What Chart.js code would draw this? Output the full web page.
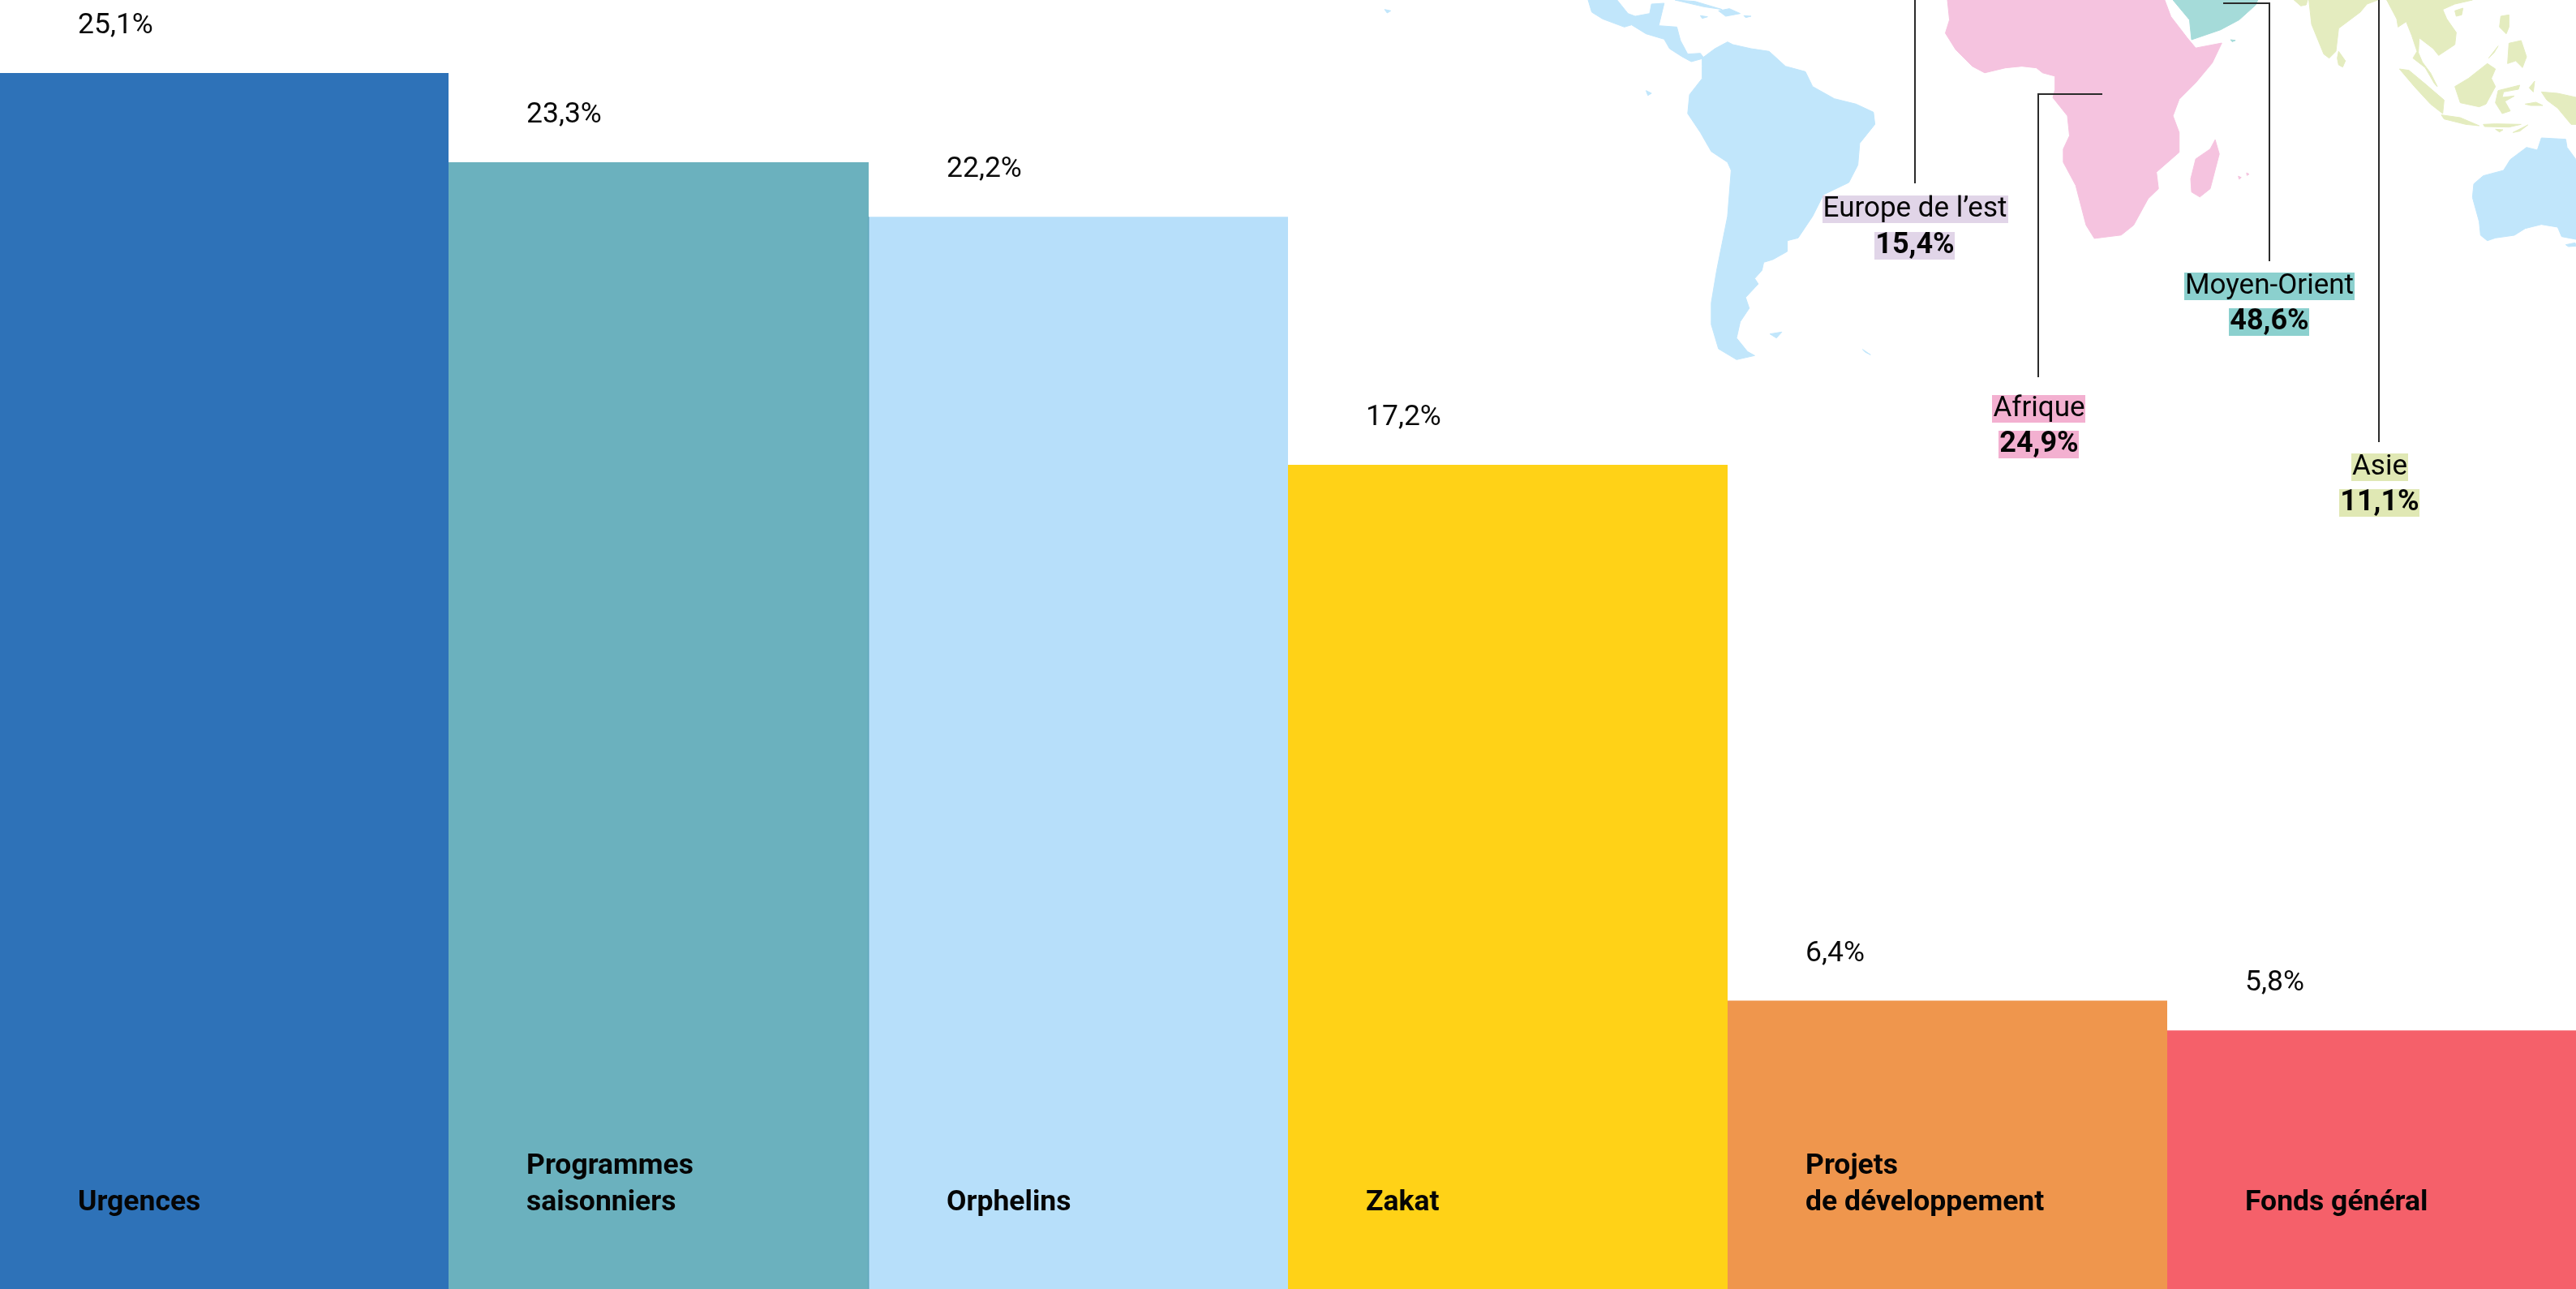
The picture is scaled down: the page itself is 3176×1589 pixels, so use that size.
<!DOCTYPE html>
<html lang="fr"><head><meta charset="utf-8"><title>Répartition</title>
<style>html,body{margin:0;padding:0;background:#fff}canvas{display:block}</style>
<script src="https://cdn.jsdelivr.net/npm/chart.js@4/dist/chart.umd.min.js"></script>
</head><body><canvas id="c" width="3176" height="1589"></canvas>
<script>
// ---- data ----
const categories = [["Urgences"],["Programmes","saisonniers"],["Orphelins"],["Zakat"],["Projets","de développement"],["Fonds général"]];
const shares = [25.1,23.3,22.2,17.2,6.4,5.8];
const columnWidths = [553,518,517,542,542,504];
const barColors = ["#2e72b8","#6bb1be","#b7dffa","#ffd217","#ef964d","#f5606a"];
const regions = ["Europe de l’est","Moyen-Orient","Afrique","Asie"];
const regionShares = ["15,4%","48,6%","24,9%","11,1%"];
const regionColors = ["#e1d5e8","#8bd0ce","#f3b0d0","#e0e8b4"];
const fmt = v => v.toFixed(1).replace('.',',')+'%';

// ---- variable-width columns ----
const edges = columnWidths.reduce((a,w)=>(a.push(a[a.length-1]+w),a),[0]);
class ColumnController extends Chart.BarController {
  _calculateBarIndexPixels(i){
    const s=this._cachedMeta.iScale, l=s.getPixelForValue(edges[i]), r=s.getPixelForValue(edges[i+1]);
    return {base:l,head:r,center:(l+r)/2,size:r-l};
  }
}
ColumnController.id='column';
ColumnController.defaults=Chart.BarController.defaults;
ColumnController.overrides=Chart.BarController.overrides;
Chart.register(ColumnController);

// ---- decorative base map ----
const sa = p => p.map(([x,y])=>[1650+x/2.24,y/3]);
const af = p => p.map(([x,y])=>[2100+x/1.96,y/2.45]);
const as = p => p.map(([x,y])=>[2800+x/3,y/3]);
const BLUE="#c1e6fb",PINK="#f5c3df",TEAL="#a5dbd9",GREEN="#e4ecbf";
const land=[
 [BLUE,sa([[690,0],[770,0],[800,50],[820,60],[860,50],[865,15],[900,12],[885,95],[935,100],[945,150],[965,200],[1000,197],[1010,215],[975,228],[950,210],[915,180],[900,145],[850,125],[810,92],[790,100],[730,70],[700,45]])],
 [BLUE,sa([[1005,215],[1040,180],[1075,155],[1090,165],[1140,180],[1190,190],[1235,245],[1290,265],[1310,320],[1370,365],[1430,385],[1478,415],[1482,460],[1440,530],[1435,610],[1410,675],[1340,720],[1310,800],[1270,880],[1240,890],[1240,930],[1200,960],[1175,970],[1170,1000],[1150,1030],[1160,1050],[1125,1100],[1135,1140],[1110,1190],[1100,1250],[1130,1300],[1150,1315],[1100,1330],[1050,1290],[1030,1200],[1030,1120],[1045,1000],[1060,900],[1075,800],[1085,630],[1075,600],[1030,560],[1000,490],[965,420],[970,350],[1005,290],[1005,245]])],
 [BLUE,sa([[930,0],[985,5],[1060,35],[1010,25]])],[BLUE,sa([[1050,40],[1080,32],[1110,50],[1070,60]])],[BLUE,sa([[1000,58],[1020,62],[1005,68]])],
 [BLUE,sa([[1120,58],[1140,60],[1125,65]])],[BLUE,sa([[128,35],[145,40],[135,48]])],[BLUE,sa([[850,335],[865,345],[855,353]])],
 [BLUE,sa([[1192,1235],[1225,1228],[1210,1250]])],[BLUE,sa([[1448,1292],[1470,1312],[1455,1302]])],
 [PINK,af([[590,0],[595,60],[585,100],[610,150],[650,200],[680,220],[730,205],[770,200],[805,205],[820,220],[850,230],[850,270],[845,295],[880,350],[885,410],[870,450],[870,490],[900,560],[925,680],[945,720],[1010,710],[1040,680],[1075,600],[1100,570],[1095,520],[1150,460],[1150,400],[1135,350],[1150,300],[1190,250],[1230,190],[1253,130],[1190,145],[1170,115],[1130,50],[1115,0]])],
 [PINK,af([[1237,422],[1247,465],[1225,570],[1200,595],[1180,580],[1178,540],[1190,480],[1225,450]])],
 [PINK,af([[1293,532],[1300,536],[1295,541]])],[PINK,af([[1313,522],[1319,526],[1314,530]])],
 [TEAL,af([[1135,0],[1175,60],[1180,120],[1250,90],[1295,60],[1335,15],[1340,0]])],[TEAL,af([[1274,120],[1286,122],[1278,126]])],
 [GREEN,as([[85,0],[135,0],[130,18],[110,22]])],
 [GREEN,as([[140,0],[150,90],[195,200],[215,215],[240,190],[250,105],[270,90],[330,45],[355,15],[395,0]])],
 [GREEN,as([[250,190],[275,225],[265,248],[250,240],[245,215]])],
 [GREEN,as([[428,0],[465,70],[470,100],[500,80],[520,130],[540,190],[525,215],[570,250],[605,310],[615,320],[590,270],[560,230],[545,195],[548,140],[600,180],[620,205],[680,165],[685,120],[650,70],[635,35],[680,15],[745,0]])],
 [GREEN,as([[680,40],[710,30],[705,55],[685,60]])],
 [GREEN,as([[850,60],[880,55],[880,100],[870,125],[845,100]])],[GREEN,as([[880,160],[925,150],[945,210],[930,250],[905,225],[875,235]])],[GREEN,as([[805,215],[840,170],[825,195]])],
 [GREEN,as([[680,320],[730,290],[800,235],[830,255],[815,290],[830,320],[795,385],[770,395],[700,380]])],
 [GREEN,as([[475,255],[510,260],[570,310],[640,370],[635,420],[590,385],[530,320]])],
 [GREEN,as([[630,425],[700,435],[770,465],[720,460],[640,440]])],
 [GREEN,as([[785,460],[830,458],[925,460],[880,470],[790,468]])],[GREEN,as([[830,478],[858,480],[845,488]])],[GREEN,as([[895,490],[950,462],[920,485]])],
 [GREEN,as([[840,335],[920,315],[915,330],[860,340],[855,360],[900,355],[865,375],[885,410],[855,420],[830,380]])],
 [GREEN,as([[940,385],[980,378],[1005,390],[960,390]])],[GREEN,as([[955,325],[975,300],[970,340]])],
 [GREEN,as([[1000,340],[1060,345],[1128,360],[1128,460],[1110,460],[1060,400],[1020,370]])],
 [BLUE,as([[1000,510],[1090,515],[1095,545],[1128,590],[1128,885],[1075,875],[1060,840],[1000,830],[940,845],[900,870],[830,880],[800,890],[775,870],[770,820],[745,730],[750,680],[785,650],[860,630],[885,590],[945,545],[985,555]])],
 [BLUE,as([[1090,905],[1125,898],[1128,910],[1100,912]])]
];
// leader lines [x1,y1,x2,y2,...]
const leaders=[[2361,0,2361,226],[2592,116,2513,116,2513,465],[2741,4,2798,4,2798,322],[2933,0,2933,545]];
const regionBoxes=[[2361,241,286],[2798,336,380],[2514,487,531],[2934,559,603]];

const FONT='Roboto, sans-serif';
function tag(ctx,txt,cx,top,bg,font){
  ctx.font=font;ctx.textAlign='left';ctx.textBaseline='alphabetic';
  const w=ctx.measureText(txt).width;
  ctx.fillStyle=bg;ctx.fillRect(Math.round(cx-w/2-1),top,Math.round(w+2),34);
  ctx.fillStyle='#050505';ctx.fillText(txt,cx-w/2,top+26);
}
const mapPlugin={id:'map',beforeDatasetsDraw(chart){
  const ctx=chart.ctx;ctx.save();
  ctx.lineJoin='round';ctx.lineWidth=1;
  for(const [col,pts] of land){
    ctx.fillStyle=col;ctx.strokeStyle=col;ctx.beginPath();
    pts.forEach(([x,y],i)=>i?ctx.lineTo(x,y):ctx.moveTo(x,y));ctx.closePath();ctx.fill();ctx.stroke();
  }
  ctx.restore();
}};
const textPlugin={id:'texts',afterDatasetsDraw(chart){
  const ctx=chart.ctx,bars=chart.getDatasetMeta(0).data;ctx.save();
  // darker seam where the teal and pale-blue columns overlap
  const seam=bars[1];ctx.fillStyle='#5fa6bb';
  ctx.fillRect(seam.x+seam.width/2-1,bars[2].y,1.5,seam.base-bars[2].y);
  ctx.strokeStyle='#2b2b2b';ctx.lineWidth=2;
  for(const l of leaders){ctx.beginPath();ctx.moveTo(l[0],l[1]);for(let i=2;i<l.length;i+=2)ctx.lineTo(l[i],l[i+1]);ctx.stroke();}
  ctx.textAlign='left';ctx.textBaseline='alphabetic';
  bars.forEach((b,i)=>{
    const x=b.x-b.width/2+96;
    ctx.font='400 35.5px '+FONT;ctx.fillStyle='#0a0a0a';
    ctx.fillText(fmt(shares[i]),x,b.y-49);
    ctx.font='700 35.5px '+FONT;ctx.fillStyle='#050505';
    const lines=categories[i],bottom=1492;
    lines.forEach((t,k)=>ctx.fillText(t,x,bottom-(lines.length-1-k)*45));
  });
  regions.forEach((r,i)=>{
    const [cx,t1,t2]=regionBoxes[i];
    tag(ctx,r,cx,t1,regionColors[i],'400 35px '+FONT);
    tag(ctx,regionShares[i],cx,t2,regionColors[i],'700 36px '+FONT);
  });
  ctx.restore();
}};
new Chart(document.getElementById('c'),{
  type:'column',
  data:{datasets:[{
    data:shares.map((v,i)=>({x:(edges[i]+edges[i+1])/2,y:v})),
    backgroundColor:barColors,borderWidth:0
  }]},
  options:{
    responsive:false,animation:false,
    layout:{padding:0},
    plugins:{legend:{display:false},tooltip:{enabled:false}},
    scales:{
      x:{type:'linear',display:false,min:0,max:edges[edges.length-1],offset:false},
      y:{type:'linear',display:false,min:0.588,max:26.57,bounds:'data'}
    }
  },
  plugins:[mapPlugin,textPlugin]
});
</script></body></html>
